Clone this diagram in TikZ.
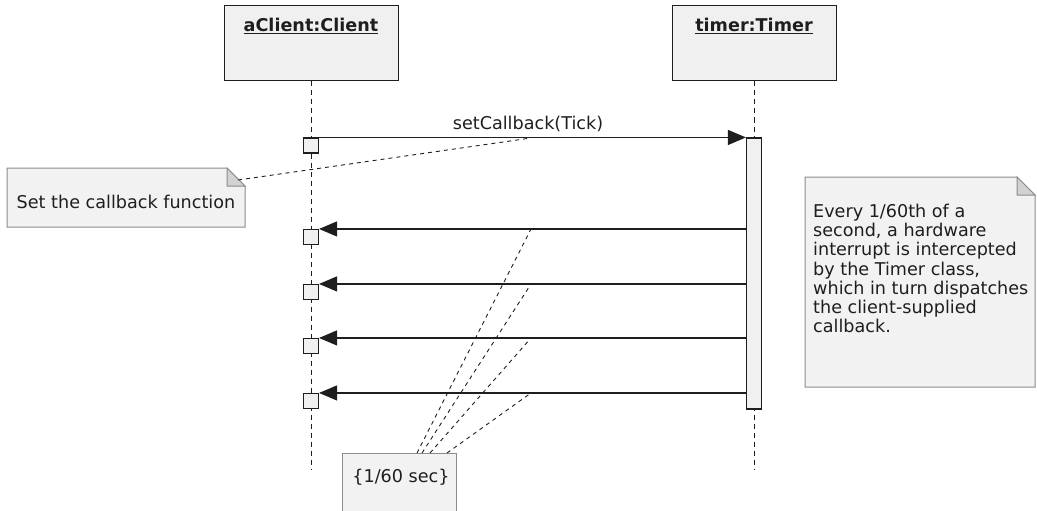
\documentclass[tikz,border=0pt]{standalone}
\usepackage{fontspec}
\setmainfont{DejaVu Sans}
\usetikzlibrary{arrows.meta,positioning}
\definecolor{BoxFill}{RGB}{240,240,240}
\definecolor{NoteFill}{RGB}{242,242,242}
\definecolor{FoldFill}{RGB}{210,210,210}
\definecolor{NoteLine}{RGB}{140,140,140}
\definecolor{InkGray}{RGB}{30,30,30}

\begin{document}
\begin{tikzpicture}[x=1pt,y=-1pt,
		font=\fontsize{17.6}{19.2}\selectfont,text=InkGray,
		header/.style={draw=InkGray,fill=BoxFill,line width=1pt,inner sep=0pt,minimum height=75pt},
		title/.style={inner sep=0pt,font=\fontsize{17.6}{19.2}\selectfont\bfseries},
		act/.style={draw=InkGray,fill=BoxFill,line width=1.1pt,minimum size=15pt,inner sep=0pt},
		lifeline/.style={InkGray,dash pattern=on 5pt off 4pt,line width=1pt},
		msg/.style={InkGray,line width=1.1pt,-{Triangle[length=18pt,width=15pt]}},
		notebox/.style={draw=NoteLine,fill=NoteFill,line width=1pt},
		notefold/.style={draw=NoteLine,fill=FoldFill,line width=1pt},
		notelink/.style={InkGray,dash pattern=on 4pt off 4pt,line width=0.9pt}]
		\useasboundingbox (0,0) rectangle (1037,511);
		
		% lifeline heads
		\node[header,minimum width=174pt] (client) at (311,43.5) {};
		\node[header,minimum width=164pt] (timer) at (754,43.5) {};
		\node[title,below=12pt of client.north] (clientname) {\underline{aClient:Client}};
		\node[title,below=12pt of timer.north] (timername) {\underline{timer:Timer}};
		
		\coordinate (clientend) at (311,470);
		\coordinate (timerend) at (754,470);
		
		% lifelines
		\draw[lifeline] (client.south) -- (clientend);
		\draw[lifeline] (timer.south) -- (timerend);
		
		% points on the messages that the notes point at
		\coordinate (t0) at (531,138);
		\coordinate (t1) at (531,229);
		\coordinate (t2) at (531,284);
		\coordinate (t3) at (531,338);
		\coordinate (t4) at (531,393);
		
		% note: set the callback
		\draw[notebox] (7,168) -- (227,168) -- (245,186) -- (245,227) -- (7,227) -- cycle;
		\draw[notefold] (227,168) -- (227,186) -- (245,186) -- cycle;
		\node (setnote) at (126,202) {Set the callback function};
		\coordinate (setfold) at (238,180);
		\draw[notelink] (setfold) -- (t0);
		
		% note: tick period
		\fill[NoteFill] (342,453) rectangle (456,511);
		\draw[NoteLine,line width=1pt] (342,511) -- (342,453) -- (456,453) -- (456,511);
		\node (secnote) at (401,477) {\{1/60 sec\}};
		\coordinate (s1) at (417,453);
		\coordinate (s2) at (422,453);
		\coordinate (s3) at (430,453);
		\coordinate (s4) at (447,453);
		\foreach \i in {1,...,4}
			\draw[notelink] (s\i) -- (t\i);
		
		% note: interrupt
		\draw[notebox] (805,177) -- (1017,177) -- (1035,195) -- (1035,387) -- (805,387) -- cycle;
		\draw[notefold] (1017,177) -- (1017,195) -- (1035,195) -- cycle;
		\node[inner sep=0pt,anchor=north west,align=left] (ticknote) at (813,204)
			{Every 1/60th of a\\second, a hardware\\interrupt is intercepted\\by the Timer class,\\which in turn dispatches\\the client-supplied\\callback.};
		
		% activations
		\node[act,minimum height=271pt] (bar) at (754,273.5) {};
		\node[act] (c0) at (311,145.5) {};
		\node[act] (c1) at (311,237) {};
		\node[act] (c2) at (311,292) {};
		\node[act] (c3) at (311,346) {};
		\node[act] (c4) at (311,401) {};
		
		% messages
		\draw[msg] (c0.north east) -- (bar.north west);
		\node (setlabel) at (528,124) {setCallback(Tick)};
		\foreach \i in {1,...,4}
			\draw[msg] (bar.west |- c\i.north) -- (c\i.north east);
	\end{tikzpicture}
\end{document}
